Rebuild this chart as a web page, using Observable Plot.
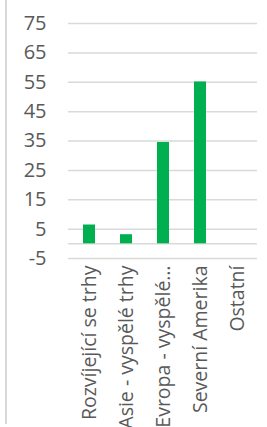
<!DOCTYPE html>
<html>
<head>
<meta charset="utf-8">
<script src="https://cdn.jsdelivr.net/npm/d3@7"></script>
<script src="https://cdn.jsdelivr.net/npm/@observablehq/plot@0.6"></script>
<style>
  html, body { margin: 0; padding: 0; background: #ffffff; }
  #wrap { position: relative; width: 267px; height: 427px; overflow: hidden; }
  #wrap::before { content: ""; position: absolute; left: 5px; top: 0; width: 2px; height: 424px; background: #d9d9d9; z-index: 2; }
  #wrap svg text { font-family: 'Open Sans', sans-serif; fill: #595959; }
</style>
</head>
<body>
<div id="wrap"></div>
<script>
const categories = ["Rozvíjející se trhy", "Asie - vyspělé trhy", "Evropa - vyspělé…", "Severní Amerika", "Ostatní"];
const values = [6.4, 3.1, 34.5, 55.1, 0];
const yTicks = [-5, 5, 15, 25, 35, 45, 55, 65, 75];

const data = categories.map((c, i) => ({cat: c, val: values[i]}));

const chart = Plot.plot({
  width: 267,
  height: 427,
  marginLeft: 68,
  marginRight: 10,
  marginTop: 23,
  marginBottom: 169,
  style: {fontFamily: "'Open Sans', sans-serif", fontSize: "20px", color: "#595959", background: "#ffffff", overflow: "hidden"},
  x: {domain: categories, paddingInner: 0.68, paddingOuter: 0.34, align: 0.5},
  y: {domain: [-5, 75]},
  marks: [
    Plot.gridY(yTicks, {stroke: "#d9d9d9", strokeOpacity: 1, strokeWidth: 1.5}),
    Plot.ruleY([0], {stroke: "#d9d9d9", strokeWidth: 1.5}),
    Plot.barY(data, {x: "cat", y: "val", fill: "#00b050"}),
    Plot.axisY(yTicks, {tickSize: 0, tickPadding: 22, fontSize: 20, tickFormat: d => String(d), label: null}),
    Plot.axisX({tickSize: 0, tickRotate: -90, tickPadding: 7, fontSize: 19.5, label: null})
  ]
});
document.getElementById("wrap").appendChild(chart);
</script>
</body>
</html>
